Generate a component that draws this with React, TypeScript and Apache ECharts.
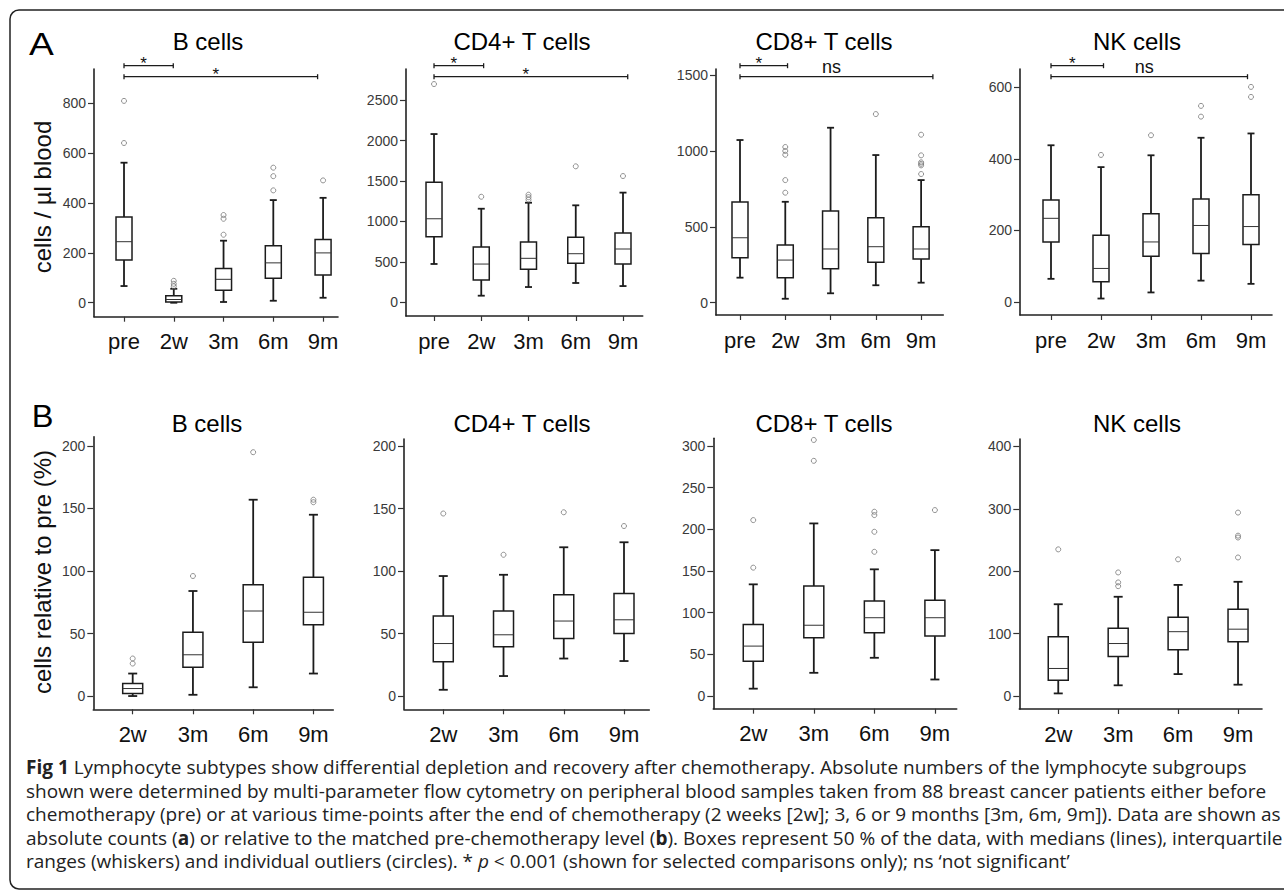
import React, { useEffect, useRef } from 'react';
import * as echarts from 'echarts';

// ---------- categories & ticks ----------
const absCategories = ['pre', '2w', '3m', '6m', '9m'];
const relCategories = ['2w', '3m', '6m', '9m'];

const absBTicks = [0, 200, 400, 600, 800];
const absCD4Ticks = [0, 500, 1000, 1500, 2000, 2500];
const absCD8Ticks = [0, 500, 1000, 1500];
const absNKTicks = [0, 200, 400, 600];
const relBTicks = [0, 50, 100, 150, 200];
const relCD4Ticks = [0, 50, 100, 150, 200];
const relCD8Ticks = [0, 50, 100, 150, 200, 250, 300];
const relNKTicks = [0, 100, 200, 300, 400];

// ---------- box statistics: [lower whisker, Q1, median, Q3, upper whisker] ----------
const absBBoxes = [
  [67, 172, 245, 344, 562],
  [0, 3, 13, 28, 56],
  [3, 50, 94, 137, 249],
  [8, 98, 160, 229, 412],
  [20, 111, 200, 254, 421],
];
const absCD4Boxes = [
  [474, 811, 1033, 1483, 2080],
  [82, 276, 473, 683, 1157],
  [189, 408, 544, 745, 1231],
  [239, 482, 601, 803, 1199],
  [201, 473, 659, 857, 1356],
];
const absCD8Boxes = [
  [165, 296, 428, 663, 1072],
  [26, 165, 281, 380, 665],
  [62, 224, 354, 604, 1153],
  [115, 266, 369, 560, 973],
  [132, 288, 354, 501, 808],
];
const absNKBoxes = [
  [65, 168, 234, 285, 438],
  [10, 57, 94, 187, 377],
  [27, 128, 168, 247, 410],
  [60, 136, 214, 288, 459],
  [51, 161, 211, 300, 471],
];
const relBBoxes = [
  [0, 2, 6, 10, 18],
  [1, 23, 33, 51, 84],
  [7, 43, 68, 89, 157],
  [18, 57, 67, 95, 145],
];
const relCD4Boxes = [
  [5, 27.5, 42, 64, 96],
  [16, 39.5, 49, 68, 97],
  [30, 46, 60, 81, 119],
  [28, 50, 61, 82, 123],
];
const relCD8Boxes = [
  [9, 42, 60, 86, 134],
  [28, 70, 85, 132, 207],
  [46, 76, 94, 114, 152],
  [20, 72, 94, 115, 175],
];
const relNKBoxes = [
  [4, 25, 44, 95, 147],
  [17, 63, 84, 108.5, 159],
  [35, 74, 103, 126, 178],
  [18, 87, 107, 139, 183],
];

// ---------- outliers: [category index, value] ----------
const absBOutliers = [[0, 641], [0, 810], [1, 66], [1, 76], [1, 88], [2, 273], [2, 337], [2, 352], [3, 451], [3, 508], [3, 542], [4, 491]];
const absCD4Outliers = [[0, 2698], [1, 1305], [2, 1270], [2, 1300], [2, 1330], [3, 1681], [4, 1561]];
const absCD8Outliers = [[1, 725], [1, 808], [1, 975], [1, 1000], [1, 1026], [3, 1243], [4, 848], [4, 905], [4, 915], [4, 925], [4, 971], [4, 1107]];
const absNKOutliers = [[1, 411], [2, 466], [3, 518], [3, 548], [4, 573], [4, 601]];
const relBOutliers = [[0, 26], [0, 30], [1, 96], [2, 195], [3, 155], [3, 157]];
const relCD4Outliers = [[0, 146], [1, 113], [2, 147], [3, 136]];
const relCD8Outliers = [[0, 154], [0, 211], [1, 282], [1, 307], [2, 173], [2, 197], [2, 217], [2, 221], [3, 223]];
const relNKOutliers = [[0, 235], [1, 176], [1, 182], [1, 198], [2, 219], [3, 222], [3, 254], [3, 257], [3, 294]];

// ---------- significance brackets: [from category, to category, level] ----------
const absBSig = [[0, 0.99, 0], [0, 3.89, 1]];
const absBSigLabels = ['*', '*'];
const absCD4Sig = [[0, 1.05, 0], [0, 4.1, 1]];
const absCD4SigLabels = ['*', '*'];
const absCD8Sig = [[0, 1.05, 0], [0, 4.26, 1]];
const absCD8SigLabels = ['*', 'ns'];
const absNKSig = [[0, 1.05, 0], [0, 3.93, 1]];
const absNKSigLabels = ['*', 'ns'];

const captionLines = [
  '{b|Fig 1} Lymphocyte subtypes show differential depletion and recovery after chemotherapy. Absolute numbers of the lymphocyte subgroups',
  'shown were determined by multi-parameter flow cytometry on peripheral blood samples taken from 88 breast cancer patients either before',
  'chemotherapy (pre) or at various time-points after the end of chemotherapy (2 weeks [2w]; 3, 6 or 9 months [3m, 6m, 9m]). Data are shown as',
  'absolute counts ({b|a}) or relative to the matched pre-chemotherapy level ({b|b}). Boxes represent 50 % of the data, with medians (lines), interquartile',
  'ranges (whiskers) and individual outliers (circles). * {i|p} < 0.001 (shown for selected comparisons only); ns \u2018not significant\u2019',
];

const FONT = '"Liberation Sans", Arial, Helvetica, sans-serif';
const CAPTION_FONT = '"Open Sans", "Noto Sans", sans-serif';
const CAPTION_SIZE = 19;

type Panel = {
  title: string;
  cats: string[];
  boxes: number[][];
  outliers: number[][];
  sig?: number[][];
  sigLabels?: string[];
  ticks: number[];
  grid: { left: number; top: number; width: number; height: number };
  xRange: [number, number];
  yRange: [number, number];
  boxW: number;
  capW: number;
  titleX: number;
  titleY: number;
};

const panels: Panel[] = [
  { title: 'B cells', cats: absCategories, boxes: absBBoxes, outliers: absBOutliers, sig: absBSig, sigLabels: absBSigLabels, ticks: absBTicks,
    grid: { left: 94, top: 69, width: 244, height: 247.7 }, xRange: [-0.603, 4.3], yRange: [-56, 938], boxW: 16, capW: 7, titleX: 208, titleY: 41 },
  { title: 'CD4+ T cells', cats: absCategories, boxes: absCD4Boxes, outliers: absCD4Outliers, sig: absCD4Sig, sigLabels: absCD4SigLabels, ticks: absCD4Ticks,
    grid: { left: 406, top: 69, width: 236.7, height: 247 }, xRange: [-0.593, 4.417], yRange: [-169, 2884], boxW: 16, capW: 7, titleX: 522, titleY: 41 },
  { title: 'CD8+ T cells', cats: absCategories, boxes: absCD8Boxes, outliers: absCD8Outliers, sig: absCD8Sig, sigLabels: absCD8SigLabels, ticks: absCD8Ticks,
    grid: { left: 716, top: 69, width: 227.3, height: 246 }, xRange: [-0.53, 4.49], yRange: [-81, 1540], boxW: 16, capW: 7, titleX: 824, titleY: 41 },
  { title: 'NK cells', cats: absCategories, boxes: absNKBoxes, outliers: absNKOutliers, sig: absNKSig, sigLabels: absNKSigLabels, ticks: absNKTicks,
    grid: { left: 1020, top: 69, width: 252, height: 246 }, xRange: [-0.62, 4.42], yRange: [-36, 651], boxW: 16, capW: 7, titleX: 1137, titleY: 41 },
  { title: 'B cells', cats: relCategories, boxes: relBBoxes, outliers: relBOutliers, ticks: relBTicks,
    grid: { left: 93.3, top: 436.7, width: 240, height: 272.6 }, xRange: [-0.654, 3.33], yRange: [-10.6, 207.4], boxW: 20, capW: 9, titleX: 207, titleY: 423 },
  { title: 'CD4+ T cells', cats: relCategories, boxes: relCD4Boxes, outliers: relCD4Outliers, ticks: relCD4Ticks,
    grid: { left: 404, top: 439, width: 245.3, height: 270.3 }, xRange: [-0.652, 3.42], yRange: [-10.6, 205.6], boxW: 20, capW: 9, titleX: 522, titleY: 423 },
  { title: 'CD8+ T cells', cats: relCategories, boxes: relCD8Boxes, outliers: relCD8Outliers, ticks: relCD8Ticks,
    grid: { left: 713.3, top: 438.3, width: 243.4, height: 270.4 }, xRange: [-0.66, 3.36], yRange: [-15, 309], boxW: 20, capW: 9, titleX: 824, titleY: 423 },
  { title: 'NK cells', cats: relCategories, boxes: relNKBoxes, outliers: relNKOutliers, ticks: relNKTicks,
    grid: { left: 1019.3, top: 439, width: 242.7, height: 270 }, xRange: [-0.65, 3.4], yRange: [-21, 412], boxW: 20, capW: 9, titleX: 1137, titleY: 423 },
];

const makeBoxRender = (boxW: number, capW: number) => (params: any, api: any) => {
  const x = api.value(0);
  const pLow = api.coord([x, api.value(1)]);
  const cx = pLow[0];
  const yLow = pLow[1];
  const yQ1 = api.coord([x, api.value(2)])[1];
  const yMed = api.coord([x, api.value(3)])[1];
  const yQ3 = api.coord([x, api.value(4)])[1];
  const yHigh = api.coord([x, api.value(5)])[1];
  const ws = { stroke: '#1c1c1c', lineWidth: 1.8 };
  return {
    type: 'group',
    children: [
      { type: 'line', shape: { x1: cx, y1: yHigh, x2: cx, y2: yQ3 }, style: ws },
      { type: 'line', shape: { x1: cx, y1: yQ1, x2: cx, y2: yLow }, style: ws },
      { type: 'line', shape: { x1: cx - capW / 2, y1: yHigh, x2: cx + capW / 2, y2: yHigh }, style: ws },
      { type: 'line', shape: { x1: cx - capW / 2, y1: yLow, x2: cx + capW / 2, y2: yLow }, style: ws },
      { type: 'rect', shape: { x: cx - boxW / 2, y: yQ3, width: boxW, height: yQ1 - yQ3 }, style: { fill: '#fff', stroke: '#1c1c1c', lineWidth: 1.5 } },
      { type: 'line', shape: { x1: cx - boxW / 2, y1: yMed, x2: cx + boxW / 2, y2: yMed }, style: { stroke: '#333', lineWidth: 1 } },
    ],
  };
};

const makeSigRender = (labels: string[]) => (params: any, api: any) => {
  const from = api.value(0);
  const to = api.value(1);
  const level = api.value(2);
  const top = params.coordSys.y;
  const yAt = top + (level === 0 ? -3.3 : 7.7);
  const x1 = api.coord([from, 0])[0];
  const x2 = api.coord([to, 0])[0];
  const label = labels[params.dataIndex];
  const isStar = label === '*';
  const st = { stroke: '#1c1c1c', lineWidth: 1.3 };
  return {
    type: 'group',
    children: [
      { type: 'line', shape: { x1, y1: yAt, x2, y2: yAt }, style: st },
      { type: 'line', shape: { x1, y1: yAt - 2.5, x2: x1, y2: yAt + 2.5 }, style: st },
      { type: 'line', shape: { x1: x2, y1: yAt - 2.5, x2, y2: yAt + 2.5 }, style: st },
      {
        type: 'text', x: (x1 + x2) / 2 - 5, y: isStar ? yAt - 2 : yAt - 10,
        style: { text: label, fontSize: isStar ? 17 : 18, fontFamily: FONT, fill: '#111', align: 'center', verticalAlign: 'middle' },
      },
    ],
  };
};

export default function App() {
  const ref = useRef<HTMLDivElement>(null);
  useEffect(() => {
    if (!ref.current) return;
    const chart = echarts.init(ref.current, null, { renderer: 'svg' });
    const axisLineStyle = { color: '#222', width: 1.6 };

    const grid = panels.map((p) => ({ ...p.grid, containLabel: false }));
    const xAxis = panels.map((p, i) => ({
      type: 'value', gridIndex: i, min: p.xRange[0], max: p.xRange[1],
      axisLine: { show: true, onZero: false, lineStyle: axisLineStyle },
      axisTick: { show: true, customValues: p.cats.map((_, k) => k), length: 5, lineStyle: { color: '#333', width: 1.2 } },
      axisLabel: {
        customValues: p.cats.map((_, k) => k),
        formatter: (v: number) => p.cats[Math.round(v)] ?? '',
        fontSize: 22, color: '#111', margin: 14, fontFamily: FONT,
      },
      splitLine: { show: false },
    }));
    const yAxis = panels.map((p, i) => ({
      type: 'value', gridIndex: i, min: p.yRange[0], max: p.yRange[1],
      axisLine: { show: true, onZero: false, lineStyle: axisLineStyle },
      axisTick: { show: true, customValues: p.ticks, length: 6, lineStyle: { color: '#333', width: 1.2 } },
      axisLabel: {
        customValues: p.ticks, formatter: (v: number) => String(v),
        fontSize: 14, color: '#3a3a3a', margin: 8, fontFamily: FONT,
      },
      splitLine: { show: false },
    }));

    const series: any[] = [];
    panels.forEach((p, i) => {
      series.push({
        type: 'custom', xAxisIndex: i, yAxisIndex: i,
        data: p.boxes.map((b, k) => [k, ...b]),
        encode: { x: 0, y: [1, 2, 3, 4, 5] },
        renderItem: makeBoxRender(p.boxW, p.capW),
        silent: true,
      });
      series.push({
        type: 'scatter', xAxisIndex: i, yAxisIndex: i,
        data: p.outliers, symbol: 'circle', symbolSize: 5,
        itemStyle: { color: 'rgba(255,255,255,0)', borderColor: '#777', borderWidth: 1 },
        silent: true,
      });
      if (p.sig && p.sigLabels) {
        series.push({
          type: 'custom', xAxisIndex: i, yAxisIndex: i,
          data: p.sig, encode: { x: [0, 1], y: 2 },
          renderItem: makeSigRender(p.sigLabels),
          clip: false, silent: true,
        });
      }
    });

    const graphic: any[] = [
      {
        type: 'rect', shape: { x: 10, y: 10, width: 1300, height: 879, r: 9 },
        style: { fill: 'none', stroke: '#222', lineWidth: 1.5 }, silent: true,
      },
      { type: 'text', x: 41.5, y: 44, scaleX: 1.2, style: { text: 'A', fontSize: 31, fontFamily: FONT, fill: '#000', align: 'center', verticalAlign: 'middle' } },
      { type: 'text', x: 42.5, y: 416, scaleX: 1.05, style: { text: 'B', fontSize: 31, fontFamily: FONT, fill: '#000', align: 'center', verticalAlign: 'middle' } },
      { type: 'text', x: 42, y: 197, rotation: Math.PI / 2, style: { text: 'cells / \u00b5l blood', fontSize: 24, fontFamily: FONT, fill: '#111', align: 'center', verticalAlign: 'middle' } },
      { type: 'text', x: 42, y: 572, rotation: Math.PI / 2, style: { text: 'cells relative to pre (%)', fontSize: 24, fontFamily: FONT, fill: '#111', align: 'center', verticalAlign: 'middle' } },
    ];
    panels.forEach((p) => {
      graphic.push({
        type: 'text', x: p.titleX, y: p.titleY,
        style: { text: p.title, fontSize: 24, fontWeight: 'normal', fontFamily: FONT, fill: '#000', align: 'center', verticalAlign: 'middle' },
      });
    });
    const captionRich = {
      b: { fontWeight: 'bold', fontSize: CAPTION_SIZE, fontFamily: CAPTION_FONT, fill: '#222' },
      i: { fontStyle: 'italic', fontSize: CAPTION_SIZE, fontFamily: CAPTION_FONT, fill: '#222' },
    };
    captionLines.forEach((line, k) => {
      graphic.push({
        type: 'text', x: 26, y: 767 + k * 23.5,
        style: { text: line, fontSize: CAPTION_SIZE, fontFamily: CAPTION_FONT, fill: '#222', align: 'left', verticalAlign: 'middle', rich: captionRich },
      });
    });

    chart.setOption({
      animation: false,
      backgroundColor: '#fff',
      grid, xAxis, yAxis, series, graphic,
    });
    return () => chart.dispose();
  }, []);
  return <div ref={ref} style={{ position: 'absolute', left: 0, top: 0, width: 1284, height: 892 }} />;
}
